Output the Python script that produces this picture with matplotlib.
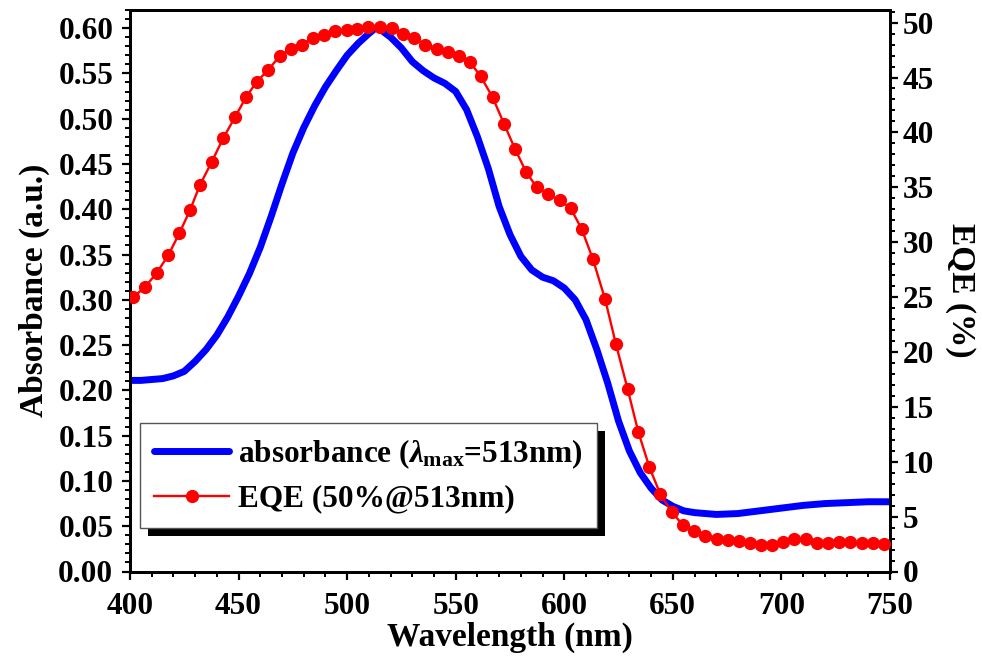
import matplotlib
matplotlib.use("Agg")
import matplotlib.pyplot as plt
from matplotlib.ticker import MultipleLocator
from matplotlib.patches import Rectangle

plt.rcParams['font.family'] = ['Liberation Serif', 'DejaVu Serif']
plt.rcParams['font.weight'] = 'bold'
plt.rcParams['mathtext.fontset'] = 'custom'
plt.rcParams['mathtext.rm'] = 'Liberation Serif:bold'
plt.rcParams['mathtext.bf'] = 'Liberation Serif:bold'
plt.rcParams['mathtext.it'] = 'Liberation Serif:italic:bold'

# Absorbance curve
abs_wl = [400, 405, 410, 415, 420, 425, 430, 435, 440, 445, 450, 455, 460, 465, 470,
          475, 480, 485, 490, 495, 500, 505, 510, 513, 515, 520, 525, 530, 535, 540,
          545, 550, 555, 560, 565, 570, 575, 580, 585, 590, 595, 600, 605, 610, 615,
          620, 625, 630, 635, 640, 645, 650, 655, 660, 665, 670, 680, 690, 700, 710,
          720, 730, 740, 750]
abs_val = [0.211, 0.211, 0.212, 0.213, 0.216, 0.221, 0.232, 0.245, 0.261, 0.281, 0.304,
           0.329, 0.358, 0.392, 0.428, 0.462, 0.490, 0.514, 0.535, 0.553, 0.570, 0.583,
           0.594, 0.600, 0.599, 0.590, 0.578, 0.563, 0.553, 0.545, 0.539, 0.530, 0.510,
           0.480, 0.445, 0.403, 0.372, 0.348, 0.333, 0.325, 0.321, 0.313, 0.300, 0.278,
           0.245, 0.208, 0.166, 0.133, 0.109, 0.092, 0.079, 0.072, 0.067, 0.065, 0.064,
           0.063, 0.064, 0.067, 0.070, 0.073, 0.075, 0.076, 0.077, 0.077]

# EQE points
eqe_wl = [401.5, 406.9, 412.3, 417.6, 422.7, 427.6, 432.2, 437.6, 443.0, 448.4,
          453.4, 458.3, 463.7, 469.1, 474.0, 479.1, 484.1, 489.3, 494.4, 499.8,
          504.7, 509.7, 515.1, 520.5, 525.8, 530.6, 535.9, 541.2, 546.6, 551.7,
          556.6, 561.5, 567.0, 572.2, 577.3, 582.4, 587.3, 592.6, 598.0, 602.9,
          608.0, 613.1, 618.8, 623.8, 629.2, 634.1, 639.2, 644.1, 649.5, 654.8,
          659.9, 664.8, 670.2, 675.3, 680.5, 685.5, 690.6, 695.8, 700.9, 705.9,
          711.3, 716.2, 721.3, 726.5, 731.6, 737.0, 742.3, 747.2]
eqe_val = [25.0, 25.9, 27.2, 28.8, 30.8, 32.9, 35.2, 37.3, 39.5, 41.4,
           43.2, 44.6, 45.7, 47.0, 47.6, 48.0, 48.6, 48.9, 49.2, 49.3,
           49.4, 49.6, 49.6, 49.5, 49.0, 48.6, 48.0, 47.6, 47.3, 47.0,
           46.4, 45.1, 43.2, 40.8, 38.5, 36.4, 35.0, 34.4, 33.8, 33.1,
           31.2, 28.5, 24.8, 20.7, 16.6, 12.7, 9.5, 7.1, 5.4, 4.2,
           3.7, 3.2, 3.0, 2.9, 2.8, 2.6, 2.4, 2.4, 2.7, 3.0,
           3.0, 2.6, 2.6, 2.7, 2.7, 2.6, 2.6, 2.5]

x_ticks = [400, 450, 500, 550, 600, 650, 700, 750]
left_ticks = [0.00, 0.05, 0.10, 0.15, 0.20, 0.25, 0.30, 0.35, 0.40, 0.45, 0.50, 0.55, 0.60]
right_ticks = [0, 5, 10, 15, 20, 25, 30, 35, 40, 45, 50]

W, H = 982, 657
fig = plt.figure(figsize=(W / 100, H / 100), dpi=100)
ax = fig.add_axes([130 / W, 1 - 571.5 / H, 760 / W, 561.5 / H])
ax2 = ax.twinx()

l1, = ax.plot(abs_wl, abs_val, color='#0000ff', lw=5, solid_capstyle='round',
              label=r'absorbance ($\lambda_{\mathrm{max}}$=513nm)', zorder=3)
l2, = ax2.plot(eqe_wl, eqe_val, color='#ff0000', lw=1.7, marker='o', ms=8.5,
               label='EQE (50%@513nm)', zorder=3)

ax.set_xlim(400, 750)
ax.set_ylim(0, 0.62)
ax2.set_ylim(0, 51.15)

ax.set_xticks(x_ticks)
ax.set_xticklabels([str(v) for v in x_ticks])
ax.set_yticks(left_ticks)
ax.set_yticklabels(['%.2f' % v for v in left_ticks])
ax2.set_yticks(right_ticks)
ax2.set_yticklabels([str(v) for v in right_ticks])
ax.xaxis.set_minor_locator(MultipleLocator(10))
ax.yaxis.set_minor_locator(MultipleLocator(0.01))
ax2.yaxis.set_minor_locator(MultipleLocator(1))

for a in (ax, ax2):
    a.tick_params(which='major', direction='out', length=6, width=1.6, labelsize=22.5, pad=3)
    a.tick_params(which='minor', direction='out', length=3.5, width=1.4)
    for s in a.spines.values():
        s.set_linewidth(2.0)
ax.tick_params(axis='x', which='major', pad=9)
ax.tick_params(axis='y', which='major', pad=6)
ax.tick_params(axis='x', which='both', top=False)
ax.tick_params(axis='y', which='both', right=False)
ax2.tick_params(axis='y', which='both', left=False)

for lab in ax.get_xticklabels() + ax.get_yticklabels() + ax2.get_yticklabels():
    lab.set_fontweight('bold')

ax.set_xlabel('Wavelength (nm)', fontsize=24, fontweight='bold', labelpad=0)
ax.set_ylabel('Absorbance (a.u.)', fontsize=24, fontweight='bold', labelpad=6)
ax2.set_ylabel('EQE (%)', fontsize=24, fontweight='bold', rotation=-90, labelpad=30)

leg = fig.legend([l1, l2], [l1.get_label(), l2.get_label()],
                 loc='upper left', bbox_to_anchor=(140 / W, 1 - 423 / H),
                 bbox_transform=fig.transFigure, fontsize=22.5, frameon=True,
                 fancybox=False, edgecolor='#555555', framealpha=1,
                 handlelength=2.4, handletextpad=0.3, borderpad=0.45,
                 labelspacing=0.45, borderaxespad=0)
leg.get_frame().set_linewidth(1.0)
leg.set_zorder(10)
for t in leg.get_texts():
    t.set_fontweight('bold')

fig.canvas.draw()
bb = leg.get_window_extent()
sh = Rectangle((bb.x0 + 8, bb.y0 - 8), bb.width, bb.height, transform=None,
               facecolor='black', edgecolor='none', zorder=9)
fig.add_artist(sh)

fig.savefig('out.png', dpi=100)
